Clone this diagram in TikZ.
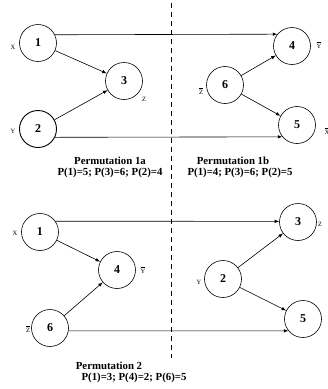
\documentclass[tikz,border=0pt]{standalone}
\usepackage{fontspec}
\setmainfont{Liberation Serif}
\usepackage{tikz}

\tikzset{
  perm/.style={circle, draw, line width=0.6pt, minimum size=37pt, inner sep=0pt, font=\fontsize{12}{12}\selectfont\bfseries},
  var/.style={inner sep=0pt, font=\fontsize{6.5}{7}\selectfont},
  caption/.style={inner sep=0pt, align=center, font=\fontsize{10.8}{11}\selectfont\bfseries},
  arr/.style={->, >=latex, line width=0.6pt}
}
\newcommand{\negvar}[1]{$\overline{\mbox{#1}}$}

\begin{document}
\begin{tikzpicture}[x=1pt,y=-1pt]
\useasboundingbox (0,0) rectangle (328,389);
\draw[line width=0.5pt, dash pattern=on 5pt off 4pt] (171,3) -- (171,358);
% permutation 1a
\node[perm] (a1) at (38,43) {1};
\node[perm] (a3) at (124,81) {3};
\node[perm, line width=0.9pt] (a2) at (38,129) {2};
\node[var] (ax) at (13,47) {X};
\node[var] (az) at (144,99) {Z};
\node[var] (ay) at (13,131) {Y};
\draw[arr] (a1) -- (a3);
\draw[arr] (a2) -- (a3);
% permutation 1b
\node[perm] (b4) at (292,46) {4};
\node[perm] (b6) at (225,85) {6};
\node[perm] (b5) at (297,125) {5};
\node[var] (by) at (319,45) {\negvar{Y}};
\node[var] (bz) at (201,91) {\negvar{Z}};
\node[var] (bx) at (327,131) {\negvar{X}};
\draw[arr] (b6) -- (b4);
\draw[arr] (b6) -- (b5);
\draw[arr] (a1.26) -- (b4.141);
\draw[arr] (a2.-26) -- (b5.219);
\node[caption] (capa) at (110,167) {Permutation 1a\\P(1)=5; P(3)=6; P(2)=4};
\node[caption] (capb) at (240,167) {\hspace*{-14pt}Permutation 1b\\P(1)=4; P(3)=6; P(2)=5};
% permutation 2
\node[perm] (c1) at (40,232) {1};
\node[perm] (c4) at (117,270) {4};
\node[perm] (c6) at (50,328) {6};
\node[var] (cx) at (15,233) {X};
\node[var] (cy) at (143,270) {\negvar{Y}};
\node[var] (cz) at (28,329) {\negvar{Z}};
\node[perm] (c3) at (298,222) {3};
\node[perm] (c2) at (223,279) {2};
\node[perm] (c5) at (303,319) {5};
\node[var] (dz) at (320,224) {Z};
\node[var] (dy) at (199,282) {Y};
\draw[arr] (c1) -- (c4);
\draw[arr] (c6) -- (c4);
\draw[arr] (c2) -- (c3);
\draw[arr] (c2) -- (c5);
\draw[arr] (c1.35) -- (c3.178);
\draw[arr] (c6.-9) -- (c5.219);
\node[caption] (capc) at (134,372) {\hspace*{-50pt}Permutation 2\\P(1)=3; P(4)=2; P(6)=5};
\end{tikzpicture}
\end{document}
